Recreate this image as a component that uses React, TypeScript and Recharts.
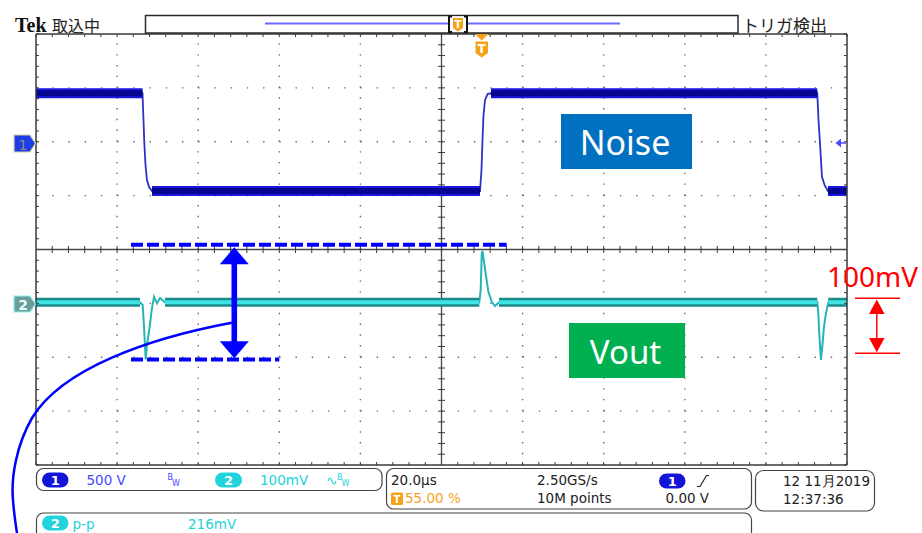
import React from 'react';
import { ComposedChart, Line, XAxis, YAxis, ReferenceLine } from 'recharts';

// ---- scope settings (time in µs relative to trigger, 20 µs/div, trigger at 55 %) ----
const timeDomain: [number, number] = [-110, 90];
const divDomain: [number, number] = [-4, 4];
const ch1Domain: [number, number] = [-3000, 1000]; // V, 500 V/div, ground marker +2 div
const ch2Domain: [number, number] = [-300, 500]; // mV, 100 mV/div, ground marker -1 div

// ---- CH1 (Noise) trace, volts ----
const ch1Time = [-110, -83.74, -83.49, -83.29, -83.0, -82.63, -82.13, -81.39, -0.5, -0.14, 0.11, 0.36, 0.73, 1.35, 2.21, 82.67, 82.97, 83.34, 83.83, 84.57, 85.31, 90];
const ch1Volt = [450, 450, 201, -12, -216, -356, -420, -457, -457, -262, 16, 247, 386, 442, 450, 450, 201, -12, -327, -410, -457, -457];
// flat (noisy band) segments of CH1
const ch1BandStart = [-110, -81.39, 2.21, 85.31];
const ch1BandEnd = [-83.74, -0.5, 82.67, 90];
const ch1BandLevel = [450, -457, 450, -457];

// ---- CH2 (Vout) trace, mV ----
const ch2Time = [-110, -84.35, -83.69, -83.37, -82.95, -82.63, -82.06, -81.47, -80.9, -80.16, -79.42, -78.19, -0.68, -0.33, -0.08, 0.11, 0.48, 0.99, 1.55, 2.39, 3.2, 4.18, 82.67, 82.92, 83.16, 83.58, 83.95, 84.33, 84.82, 85.39, 86.3, 87.29, 90];
const ch2MilliVolt = [2, 2, -3, -43, -104, -77, -49, -12, 12, 0, 10, 2, 2, 25, 93, 97, 77, 50, 22, 3, -5, 2, 2, -18, -55, -105, -77, -43, -18, 2, 6, 2, 2];
const ch2BandStart = [-110, -78.19, 4.18, 85.39];
const ch2BandEnd = [-84.35, -0.68, 82.67, 90];
const ch2BandLevel = [2, 2, 2, 2];

// ---- annotation values ----
const dashUpper = { from: -86.57, to: 6.08, mv: 109 };
const dashLower = { from: -86.57, to: -50.0, mv: -104 };
const arrowAt = { t: -61.1, top: 104, bottom: -102 };

// ---- graticule ----
const minorT = Array.from({ length: 51 }, (_, i) => -110 + i * 4);
const minorDiv = Array.from({ length: 41 }, (_, i) => Math.round((-4 + i * 0.2) * 10) / 10);
const majorT = [-90, -70, -50, -30, 10, 30, 50, 70];
const majorDiv = [-3, -2, -1, 1, 2, 3];
const centerT = -10;

// ---- readouts ----
const ch1Scale = '500 V';
const ch2Scale = '100mV';
const timeScale = '20.0µs';
const trigPos = '55.00 %';
const sampleRate = '2.50GS/s';
const recordLen = '10M points';
const trigLevel = '0.00 V';
const dateText = '12 11月2019';
const timeText = '12:37:36';
const measLabel = 'p-p';
const measValue = '216mV';

const W = 922;
const H = 533;
const MARGIN = { top: 34, right: 75, bottom: 68, left: 36 };
const FONT = '"DejaVu Sans", sans-serif';
const ORANGE = '#f5a21b';
const CYAN = '#22d3dc';
const BLUE_TXT = '#4747ff';

const EmptyTick = () => <g />;

function bandData(starts: number[], ends: number[], levels: number[]) {
  const out: { t: number; v: number | null }[] = [];
  starts.forEach((s, i) => {
    out.push({ t: s, v: levels[i] });
    out.push({ t: ends[i], v: levels[i] });
    if (i < starts.length - 1) out.push({ t: (ends[i] + starts[i + 1]) / 2, v: null });
  });
  return out;
}

const DoubleArrow = (p: any) => {
  const x = p.x1;
  const yTop = Math.min(p.y1, p.y2);
  const yBot = Math.max(p.y1, p.y2);
  const hh = 17;
  const hw = 14.5;
  return (
    <g>
      <rect x={x - 2.8} y={yTop + hh - 1} width={5.6} height={yBot - yTop - 2 * hh + 2} fill="#0000ff" />
      <polygon points={`${x},${yTop} ${x - hw},${yTop + hh} ${x + hw},${yTop + hh}`} fill="#0000ff" />
      <polygon points={`${x},${yBot} ${x - hw},${yBot - hh} ${x + hw},${yBot - hh}`} fill="#0000ff" />
    </g>
  );
};

const Pill = ({ x, y, w, h, fill, label }: { x: number; y: number; w: number; h: number; fill: string; label: string }) => (
  <g>
    <rect x={x} y={y} width={w} height={h} rx={h / 2} fill={fill} />
    <text x={x + w / 2} y={y + h - 3} textAnchor="middle" fontFamily={FONT} fontWeight="bold" fontSize={13} fill="#fff">
      {label}
    </text>
  </g>
);

export default function App() {
  const ch1Data = ch1Time.map((t, i) => ({ t, v: ch1Volt[i] }));
  const ch2Data = ch2Time.map((t, i) => ({ t, v: ch2MilliVolt[i] }));
  const ch1Band = bandData(ch1BandStart, ch1BandEnd, ch1BandLevel);
  const ch2Band = bandData(ch2BandStart, ch2BandEnd, ch2BandLevel);

  const axisStroke = { stroke: '#3a3a3a', strokeWidth: 1.5 };
  const tickStroke = { stroke: '#3a3a3a', strokeWidth: 1 };

  return (
    <div style={{ position: 'absolute', left: 0, top: 0, width: W, height: H, background: '#fff', overflow: 'hidden' }}>
      <ComposedChart width={W} height={H} margin={MARGIN}>
        <XAxis xAxisId="t" type="number" dataKey="t" domain={timeDomain} allowDataOverflow orientation="bottom" mirror ticks={minorT} interval={0} tickSize={3} tickLine={tickStroke} axisLine={axisStroke} tick={<EmptyTick />} />
        <XAxis xAxisId="tTop" type="number" dataKey="t" domain={timeDomain} allowDataOverflow orientation="top" mirror ticks={minorT} interval={0} tickSize={3} tickLine={tickStroke} axisLine={axisStroke} tick={<EmptyTick />} />
        <YAxis yAxisId="div" type="number" domain={divDomain} allowDataOverflow orientation="left" mirror ticks={minorDiv} interval={0} tickSize={3} tickLine={tickStroke} axisLine={axisStroke} tick={<EmptyTick />} />
        <YAxis yAxisId="divR" type="number" domain={divDomain} allowDataOverflow orientation="right" mirror ticks={minorDiv} interval={0} tickSize={3} tickLine={tickStroke} axisLine={axisStroke} tick={<EmptyTick />} />
        <YAxis yAxisId="ch1" type="number" domain={ch1Domain} allowDataOverflow hide />
        <YAxis yAxisId="ch2" type="number" domain={ch2Domain} allowDataOverflow hide />

        {/* dotted graticule */}
        {majorT.map((t) => (
          <ReferenceLine key={`vx${t}`} xAxisId="t" yAxisId="div" x={t} stroke="#6a6a6a" strokeWidth={1.4} strokeDasharray="1.4 9.375" />
        ))}
        {majorDiv.map((d) => (
          <ReferenceLine key={`hy${d}`} xAxisId="t" yAxisId="div" y={d} stroke="#6a6a6a" strokeWidth={1.4} strokeDasharray="1.4 14.82" />
        ))}
        {/* centre cross with ticks */}
        <ReferenceLine xAxisId="t" yAxisId="div" x={centerT} stroke="#4a4a4a" strokeWidth={1.3} />
        <ReferenceLine xAxisId="t" yAxisId="div" y={0} stroke="#4a4a4a" strokeWidth={1.3} />
        {minorT.slice(1, -1).map((t) => (
          <ReferenceLine key={`ct${t}`} xAxisId="t" yAxisId="div" segment={[{ x: t, y: -0.065 }, { x: t, y: 0.065 }]} stroke="#3a3a3a" strokeWidth={1} />
        ))}
        {minorDiv.slice(1, -1).map((d) => (
          <ReferenceLine key={`cd${d}`} xAxisId="t" yAxisId="div" segment={[{ x: centerT - 0.85, y: d }, { x: centerT + 0.85, y: d }]} stroke="#3a3a3a" strokeWidth={1} />
        ))}

        {/* CH1 */}
        <Line xAxisId="t" yAxisId="ch1" data={ch1Data} dataKey="v" type="linear" stroke="#3030c8" strokeWidth={1.8} dot={false} isAnimationActive={false} />
        <Line xAxisId="t" yAxisId="ch1" data={ch1Band} dataKey="v" type="linear" stroke="#1818e0" strokeWidth={10} dot={false} connectNulls={false} isAnimationActive={false} />
        <Line xAxisId="t" yAxisId="ch1" data={ch1Band} dataKey="v" type="linear" stroke="#060690" strokeWidth={6} dot={false} connectNulls={false} isAnimationActive={false} />

        {/* CH2 */}
        <Line xAxisId="t" yAxisId="ch2" data={ch2Data} dataKey="v" type="linear" stroke="#25b5b5" strokeWidth={2} dot={false} isAnimationActive={false} />
        <Line xAxisId="t" yAxisId="ch2" data={ch2Band} dataKey="v" type="linear" stroke="#1b8a8a" strokeWidth={9} dot={false} connectNulls={false} isAnimationActive={false} />
        <Line xAxisId="t" yAxisId="ch2" data={ch2Band} dataKey="v" type="linear" stroke="#3fe3e3" strokeWidth={4} dot={false} connectNulls={false} isAnimationActive={false} />

        {/* annotations */}
        <ReferenceLine xAxisId="t" yAxisId="ch2" segment={[{ x: dashUpper.from, y: dashUpper.mv }, { x: dashUpper.to, y: dashUpper.mv }]} stroke="#0000ff" strokeWidth={4} strokeDasharray="12 4" />
        <ReferenceLine xAxisId="t" yAxisId="ch2" segment={[{ x: dashLower.from, y: dashLower.mv }, { x: dashLower.to, y: dashLower.mv }]} stroke="#0000ff" strokeWidth={4} strokeDasharray="12 4" />
        <ReferenceLine xAxisId="t" yAxisId="ch2" segment={[{ x: arrowAt.t, y: arrowAt.top }, { x: arrowAt.t, y: arrowAt.bottom }]} shape={DoubleArrow} />
      </ComposedChart>

      <svg width={W} height={H} style={{ position: 'absolute', left: 0, top: 0, pointerEvents: 'none' }}>
        {/* header */}
        <text x={15} y={32} fontFamily='"Liberation Serif", serif' fontWeight="bold" fontSize={20} fill="#111">Tek</text>
        <text x={52} y={32} fontFamily='"Noto Sans CJK JP", sans-serif' fontSize={16} fill="#222">取込中</text>
        <rect x={145.5} y={15.5} width={592.5} height={17.5} fill="#fff" stroke="#2a2a2a" strokeWidth={1.5} />
        <line x1={265} y1={23.5} x2={620} y2={23.5} stroke="#6b6bff" strokeWidth={2} />
        <rect x={449} y={16.5} width={18} height={15.5} fill="#fff" />
        <path d="M452 16.5 H449 V32 H452 M464 16.5 H467 V32 H464" fill="none" stroke="#111" strokeWidth={2} />
        <path d="M453 18 H463 V28 L458 31.5 L453 28 Z" fill={ORANGE} />
        <text x={458} y={28} textAnchor="middle" fontFamily={FONT} fontWeight="bold" fontSize={10} fill="#fff">T</text>
        <text x={742} y={32} fontFamily='"Noto Sans CJK JP", sans-serif' fontSize={17} fill="#222">トリガ検出</text>
        {/* trigger position marker */}
        <polygon points="475,34 488.5,34 481.7,40.5" fill={ORANGE} />
        <path d="M475.5 41.5 H488 V53 L481.7 57.5 L475.5 53 Z" fill={ORANGE} />
        <text x={481.7} y={53} textAnchor="middle" fontFamily={FONT} fontWeight="bold" fontSize={12} fill="#fff">T</text>

        {/* channel ground markers */}
        <polygon points="14,135 30,135 35.5,143.5 30,152 14,152" fill="#1e3ce8" stroke="#d4d49c" strokeWidth={1.2} />
        <text x={23} y={149.5} textAnchor="middle" fontFamily={FONT} fontSize={14} fill="#8a8a8a">1</text>
        <polygon points="14,296 30,296 35.5,304 30,312 14,312" fill="#6a9c98" stroke="#8ff0f0" strokeWidth={1.2} />
        <text x={23} y={309.5} textAnchor="middle" fontFamily={FONT} fontSize={14} fontWeight="bold" fill="#e8ffff">2</text>
        {/* trigger level arrow */}
        <polygon points="835.5,143 841,138.5 841,147.5" fill="#4a4aff" />
        <line x1={840} y1={143} x2={846} y2={143} stroke="#4a4aff" strokeWidth={1.5} />

        {/* label boxes */}
        <rect x={561} y={114} width={131} height={55} fill="#0070c0" />
        <text x={625} y={155} textAnchor="middle" fontFamily='"Noto Sans", sans-serif' fontSize={34} fill="#fff">Noise</text>
        <rect x={569} y={323} width={116} height={55} fill="#00b050" />
        <text x={625.5} y={364} textAnchor="middle" fontFamily='"Noto Sans", sans-serif' fontSize={33} fill="#fff">Vout</text>

        {/* 100mV scale annotation */}
        <text x={827} y={287} fontFamily='"Noto Sans", sans-serif' fontSize={28} fill="#ff0000">100mV</text>
        <line x1={855} y1={298.3} x2={900} y2={298.3} stroke="#ff0000" strokeWidth={1.5} />
        <line x1={855} y1={353.3} x2={900} y2={353.3} stroke="#ff0000" strokeWidth={1.5} />
        <line x1={876.8} y1={305} x2={876.8} y2={346} stroke="#ff0000" strokeWidth={1.5} />
        <polygon points="876.8,299.5 869,314 884.6,314" fill="#ff0000" />
        <polygon points="876.8,352.3 869,338 884.6,338" fill="#ff0000" />

        {/* callout curve */}
        <path d="M231.7 322.7 C150 338, 62 368, 32 418 C16 446, 11 478, 13 500 C14 515, 16 526, 18 540" fill="none" stroke="#0000ff" strokeWidth={2.5} />

        {/* status panel: channels */}
        <rect x={36.5} y={468.5} width={345.5} height={22} rx={7} fill="#fff" stroke="#444" strokeWidth={1.2} />
        <Pill x={42} y={472.5} w={26.5} h={15} fill="#1414d8" label="1" />
        <text x={86.5} y={485} fontFamily={FONT} fontSize={13.5} fill={BLUE_TXT}>{ch1Scale}</text>
        <text x={167.5} y={480} fontFamily={FONT} fontSize={8} fill={BLUE_TXT}>B</text>
        <text x={172} y={486} fontFamily={FONT} fontSize={8} fill={BLUE_TXT}>W</text>
        <Pill x={215} y={472.5} w={27} h={15} fill={CYAN} label="2" />
        <text x={260} y={485} fontFamily={FONT} fontSize={13.5} fill={CYAN}>{ch2Scale}</text>
        <path d="M328 481 q2 -6 4 0 t4 0" fill="none" stroke={CYAN} strokeWidth={1.2} />
        <text x={337} y={480} fontFamily={FONT} fontSize={8} fill={CYAN}>B</text>
        <text x={341.5} y={486} fontFamily={FONT} fontSize={8} fill={CYAN}>W</text>

        {/* status panel: timebase / trigger */}
        <rect x={386.5} y={468.5} width={365} height={40.5} rx={7} fill="#fff" stroke="#444" strokeWidth={1.2} />
        <text x={391} y={485} fontFamily={FONT} fontSize={13.5} fill="#222">{timeScale}</text>
        <rect x={391} y={492.5} width={12} height={12.5} rx={1.5} fill={ORANGE} />
        <text x={397} y={503} textAnchor="middle" fontFamily={FONT} fontWeight="bold" fontSize={10} fill="#fff">T</text>
        <text x={405} y={503} fontFamily={FONT} fontSize={13.5} fill={ORANGE}>{trigPos}</text>
        <text x={537} y={485} fontFamily={FONT} fontSize={13.5} fill="#222">{sampleRate}</text>
        <text x={537} y={503} fontFamily={FONT} fontSize={13.5} fill="#222">{recordLen}</text>
        <Pill x={659} y={473.5} w={26.5} h={15} fill="#1414d8" label="1" />
        <path d="M697 486.5 H700 L706.5 475.5 H709" fill="none" stroke="#222" strokeWidth={1.2} />
        <text x={665.5} y={503} fontFamily={FONT} fontSize={13.5} fill="#222">{trigLevel}</text>

        {/* status panel: date */}
        <rect x={755.5} y={470.5} width={119} height={40.5} rx={8} fill="#fff" stroke="#444" strokeWidth={1.2} />
        <text x={783} y={486} fontFamily={FONT} fontSize={13.5} fill="#222">{dateText}</text>
        <text x={783} y={504} fontFamily={FONT} fontSize={13.5} fill="#222">{timeText}</text>

        {/* status panel: measurement */}
        <rect x={36.5} y={513} width={715} height={30} rx={7} fill="#fff" stroke="#444" strokeWidth={1.2} />
        <Pill x={42} y={515.5} w={26.5} h={15} fill={CYAN} label="2" />
        <text x={72.5} y={529} fontFamily={FONT} fontSize={13.5} fill={CYAN}>{measLabel}</text>
        <text x={188} y={529} fontFamily={FONT} fontSize={13.5} fill={CYAN}>{measValue}</text>
      </svg>
    </div>
  );
}
